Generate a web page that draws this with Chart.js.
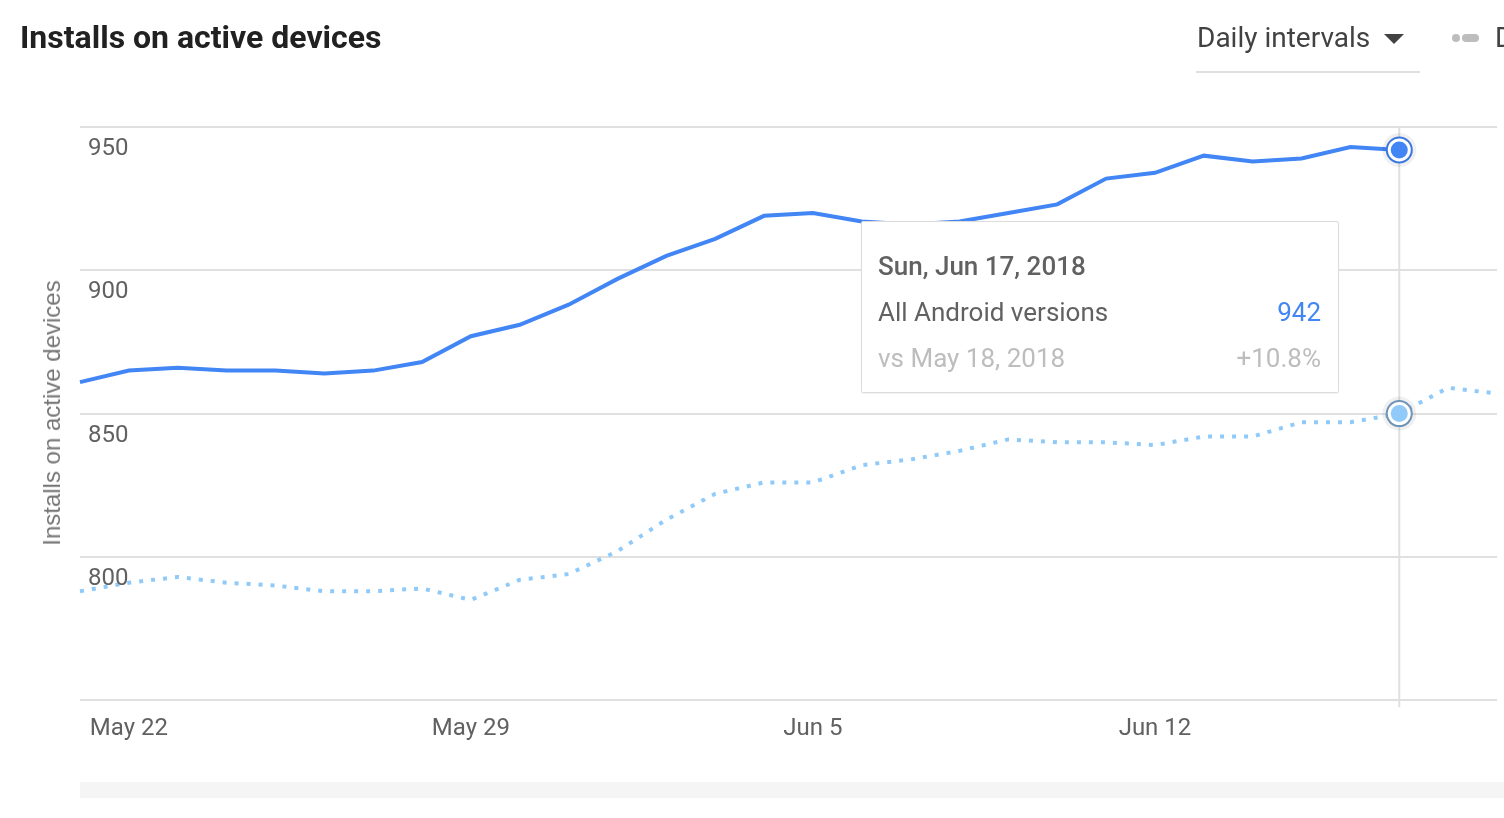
<!DOCTYPE html>
<html>
<head>
<meta charset="utf-8">
<script src="https://cdn.jsdelivr.net/npm/chart.js@4.4.1/dist/chart.umd.min.js"></script>
<style>
  body { margin: 0; width: 1504px; height: 818px; overflow: hidden; background: #fff; font-family: Roboto, sans-serif; }
  #page { position: relative; width: 1504px; height: 818px; overflow: hidden; }
  #chart { position: absolute; left: 0; top: 0; }
  .title { position: absolute; left: 20px; top: 18px; font-size: 32px; font-weight: 700; color: #212121; line-height: 38px; white-space: nowrap; }
  .interval { position: absolute; left: 1197px; top: 22px; font-size: 28px; color: #424242; line-height: 32px; white-space: nowrap; }
  .caret { position: absolute; left: 1384px; top: 34px; width: 0; height: 0; border-left: 10px solid transparent; border-right: 10px solid transparent; border-top: 10px solid #424242; }
  .underline { position: absolute; left: 1196px; top: 71px; width: 224px; height: 2px; background: #e0e0e0; }
  .dot { position: absolute; left: 1452px; top: 34px; width: 8px; height: 8px; border-radius: 4px; background: #bdbdbd; }
  .pill { position: absolute; left: 1462px; top: 34px; width: 17px; height: 8px; border-radius: 4px; background: #bdbdbd; }
  .cut { position: absolute; left: 1495px; top: 22px; font-size: 28px; color: #424242; line-height: 32px; }
  .ytitle { position: absolute; left: 52px; top: 413px; transform: translate(-50%, -50%) rotate(-90deg); font-family: "Liberation Sans", Arial, sans-serif; font-size: 24px; color: #757575; white-space: nowrap; }
  .scroll { position: absolute; left: 80px; top: 782px; width: 1424px; height: 16px; background: #f5f5f5; }
  #tip { position: absolute; left: 861px; top: 221px; width: 476px; height: 170px; background: #fff; border: 1px solid #dcdcdc; border-radius: 2px; box-shadow: 0 1px 2px rgba(0,0,0,0.06); font-size: 26px; }
  #tip .row { position: absolute; left: 16px; right: 17px; height: 30px; line-height: 30px; }
  #tip .r { position: absolute; right: 0; top: 0; }
</style>
</head>
<body>
<div id="page">
  <canvas id="chart" width="1511" height="818"></canvas>
  <div class="title">Installs on active devices</div>
  <div class="interval">Daily intervals</div>
  <div class="caret"></div>
  <div class="underline"></div>
  <div class="dot"></div>
  <div class="pill"></div>
  <div class="cut">D</div>
  <div class="ytitle">Installs on active devices</div>
  <div class="scroll"></div>
  <div id="tip">
    <div class="row" style="top:29px;font-weight:500;color:#616161">Sun, Jun 17, 2018</div>
    <div class="row" style="top:75px;color:#616161">All Android versions<span class="r" style="color:#4285f4">942</span></div>
    <div class="row" style="top:121px;color:#bdbdbd">vs May 18, 2018<span class="r">+10.8%</span></div>
  </div>
</div>
<script>
const dates = ['May 21', 'May 22', 'May 23', 'May 24', 'May 25', 'May 26', 'May 27', 'May 28', 'May 29', 'May 30',
  'May 31', 'Jun 1', 'Jun 2', 'Jun 3', 'Jun 4', 'Jun 5', 'Jun 6', 'Jun 7', 'Jun 8', 'Jun 9',
  'Jun 10', 'Jun 11', 'Jun 12', 'Jun 13', 'Jun 14', 'Jun 15', 'Jun 16', 'Jun 17', 'Jun 18', 'Jun 19'];
const tickDates = ['May 22', 'May 29', 'Jun 5', 'Jun 12'];
const installs = [861, 865, 866, 865, 865, 864, 865, 868, 877, 881,
  888, 897, 905, 911, 919, 920, 917, 916, 917, 920,
  923, 932, 934, 940, 938, 939, 943, 942];
const previousPeriod = [788, 791, 793, 791, 790, 788, 788, 789, 785, 792,
  794, 802, 813, 822, 826, 826, 832, 834, 837, 841,
  840, 840, 839, 842, 842, 847, 847, 850, 859, 857];
const yTicks = [950, 900, 850, 800];
const hoverDate = 'Jun 17';

const hoverIndex = dates.indexOf(hoverDate);

// vertical hover line, ring markers and the in-plot y labels
const overlay = {
  id: 'overlay',
  beforeDatasetsDraw(chart) {
    const {ctx, chartArea, scales} = chart;
    const x = scales.x.getPixelForValue(hoverIndex);
    ctx.save();
    ctx.strokeStyle = '#e0e0e0';
    ctx.lineWidth = 2;
    ctx.beginPath();
    ctx.moveTo(x, chartArea.top);
    ctx.lineTo(x, chartArea.bottom + 7);
    ctx.stroke();
    ctx.restore();
  },
  afterDatasetsDraw(chart) {
    const {ctx, scales} = chart;
    ctx.save();
    ctx.font = '24px Roboto';
    ctx.fillStyle = '#616161';
    ctx.textBaseline = 'middle';
    ctx.textAlign = 'left';
    yTicks.forEach(v => ctx.fillText(String(v), 88, scales.y.getPixelForValue(v) + 22));
    const rings = [[1, '#6f94b8', '#90caf9'], [0, '#3a76e0', '#4285f4']];
    rings.forEach(([i, edge, fill]) => {
      const pt = chart.getDatasetMeta(i).data[hoverIndex];
      const circle = (r, c) => { ctx.fillStyle = c; ctx.beginPath(); ctx.arc(pt.x, pt.y, r, 0, Math.PI * 2); ctx.fill(); };
      circle(17, 'rgba(0,0,0,0.06)');
      circle(13.5, edge);
      circle(11.5, '#ffffff');
      circle(8.5, fill);
    });
    ctx.restore();
  }
};

Chart.defaults.font.family = 'Roboto';

new Chart(document.getElementById('chart'), {
  type: 'line',
  data: {
    labels: dates,
    datasets: [{
      label: 'All Android versions',
      data: installs,
      borderColor: '#4285f4',
      borderWidth: 4,
      pointRadius: 0,
      tension: 0
    }, {
      label: 'vs previous period',
      data: previousPeriod,
      borderColor: '#90caf9',
      borderWidth: 4,
      borderDash: [4, 8],
      borderCapStyle: 'butt',
      pointRadius: 0,
      tension: 0
    }]
  },
  options: {
    responsive: false,
    animation: false,
    events: [],
    layout: {
      padding: {top: 127, left: 80, right: 0, bottom: 61}
    },
    scales: {
      x: {
        type: 'category',
        offset: false,
        grid: {display: false, drawTicks: false},
        border: {display: false},
        ticks: {
          autoSkip: false,
          maxRotation: 0,
          padding: 14,
          color: '#616161',
          font: {size: 24},
          callback: function(val, i){
            return tickDates.includes(dates[i]) ? dates[i] : '';
          }
        }
      },
      y: {
        min: 750,
        max: 950,
        grid: {color: '#e0e0e0', lineWidth: 2, drawTicks: false},
        border: {display: false},
        ticks: {display: false, stepSize: 50}
      }
    },
    plugins: {
      legend: {display: false},
      tooltip: {enabled: false}
    }
  },
  plugins: [overlay]
});
</script>
</body>
</html>
